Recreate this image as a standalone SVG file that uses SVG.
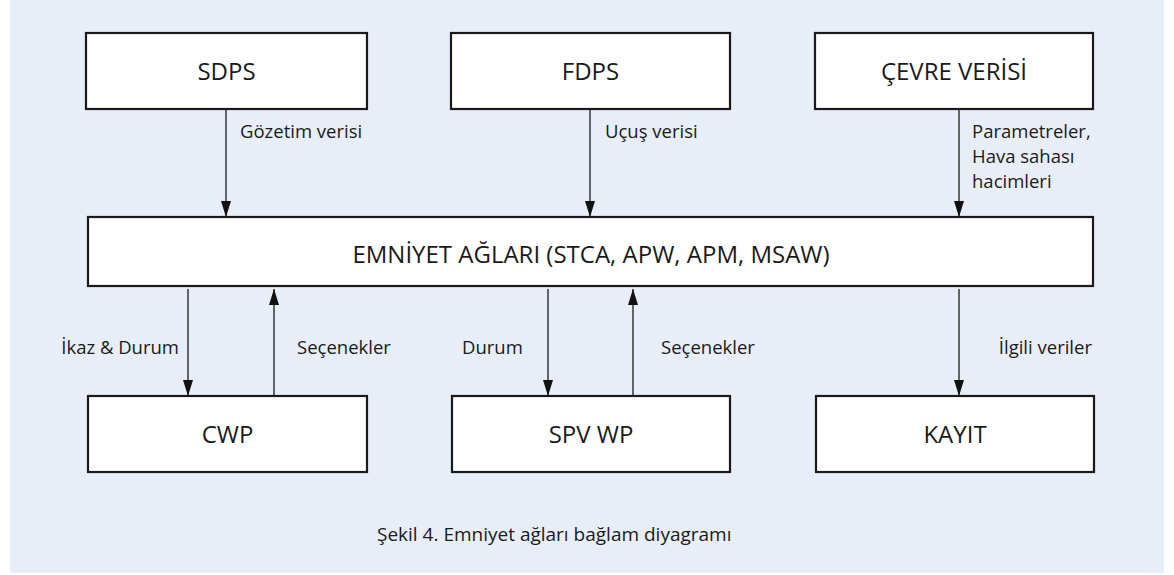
<svg xmlns="http://www.w3.org/2000/svg" width="1174" height="575" viewBox="0 0 1174 575">
<style>
.box{fill:#fff;stroke:#1a1a1a;stroke-width:2.2}
.t{font-family:"Open Sans","Noto Sans",sans-serif;fill:#1a1a1a}
.bt{font-size:24px;text-anchor:middle}
.lb{font-size:18.5px}
.cap{font-size:19px}
.c{stroke:#1a1a1a;stroke-width:1.3;fill:none}
</style>
<defs>
<marker id="ah" markerWidth="16" markerHeight="10" refX="16" refY="5" orient="auto" markerUnits="userSpaceOnUse">
<path d="M0,0 L16,5 L0,10 Z" fill="#111"/>
</marker>
</defs>
<rect x="10" y="0" width="1154" height="573" fill="#E8EEF7"/>
<g id="sdps"><rect class="box" x="86" y="33" width="281" height="76"/><text class="t bt" x="226.5" y="80">SDPS</text></g>
<g id="fdps"><rect class="box" x="451" y="33" width="279" height="76"/><text class="t bt" x="590.5" y="80">FDPS</text></g>
<g id="cevre"><rect class="box" x="815" y="33" width="278" height="76"/><text class="t bt" x="954" y="80">ÇEVRE VERİSİ</text></g>
<g id="emniyet"><rect class="box" x="88" y="217" width="1005" height="69"/><text class="t bt" x="591" y="263">EMNİYET AĞLARI (STCA, APW, APM, MSAW)</text></g>
<g id="cwp"><rect class="box" x="88" y="396" width="279" height="76"/><text class="t bt" x="227.5" y="443">CWP</text></g>
<g id="spvwp"><rect class="box" x="452" y="396" width="278" height="76"/><text class="t bt" x="591" y="443">SPV WP</text></g>
<g id="kayit"><rect class="box" x="816" y="396" width="278" height="76"/><text class="t bt" x="955" y="443">KAYIT</text></g>
<g id="connectors">
<line class="c" x1="226" y1="110" x2="226" y2="217" marker-end="url(#ah)"/>
<line class="c" x1="590" y1="110" x2="590" y2="217" marker-end="url(#ah)"/>
<line class="c" x1="959" y1="110" x2="959" y2="217" marker-end="url(#ah)"/>
<line class="c" x1="188" y1="289" x2="188" y2="396" marker-end="url(#ah)"/>
<line class="c" x1="274" y1="396" x2="274" y2="289" marker-end="url(#ah)"/>
<line class="c" x1="548" y1="289" x2="548" y2="396" marker-end="url(#ah)"/>
<line class="c" x1="633" y1="396" x2="633" y2="289" marker-end="url(#ah)"/>
<line class="c" x1="959" y1="289" x2="959" y2="396" marker-end="url(#ah)"/>
<text class="t lb" x="240" y="138">Gözetim verisi</text>
<text class="t lb" x="605" y="138">Uçuş verisi</text>
<text class="t lb" x="972" y="138">Parametreler,</text>
<text class="t lb" x="972" y="163">Hava sahası</text>
<text class="t lb" x="972" y="188">hacimleri</text>
<text class="t lb" x="179" y="354" text-anchor="end">İkaz &amp; Durum</text>
<text class="t lb" x="297" y="354">Seçenekler</text>
<text class="t lb" x="462" y="354">Durum</text>
<text class="t lb" x="661" y="354">Seçenekler</text>
<text class="t lb" x="1092" y="354" text-anchor="end">İlgili veriler</text>
</g>
<text class="t cap" x="377" y="541">Şekil 4. Emniyet ağları bağlam diyagramı</text>
</svg>
